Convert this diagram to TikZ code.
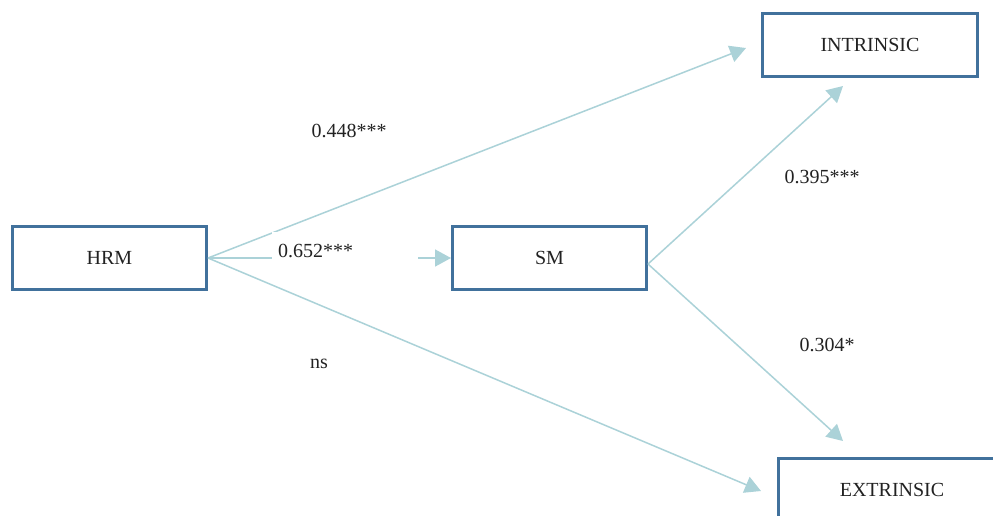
\documentclass[tikz,border=0pt]{standalone}
\usepackage{fontspec}
\setmainfont{Liberation Serif}
\usetikzlibrary{arrows.meta,calc}

\definecolor{boxblue}{HTML}{41719C}
\definecolor{pathcol}{HTML}{ABD2D8}
\definecolor{inkcol}{HTML}{222222}

\tikzset{
  construct/.style={draw=boxblue, line width=3pt, fill=white, minimum height=63pt,
    text=inkcol, font=\fontsize{20}{24}\selectfont},
  arr/.style={draw=pathcol, line width=1.5pt,
    -{Triangle[length=16pt,width=17pt]}},
  coef/.style={text=inkcol, font=\fontsize{20}{24}\selectfont, inner sep=0pt},
}

\begin{document}
\begin{tikzpicture}[x=1pt,y=-1pt]
  \path[clip] (0,0) rectangle (993,515);
  \fill[white] (0,0) rectangle (993,515);

  % latent constructs
  \node[construct, minimum width=194pt] (hrm)  at (109.5,258) {HRM};
  \node[construct, minimum width=194pt] (sm)   at (549.5,258) {SM};
  \node[construct, minimum width=215pt] (intr) at (870,45)    {INTRINSIC};
  \node[construct, minimum width=227pt] (extr) at (892,490)   {EXTRINSIC};

  % arrow tips that stop short of the outcome boxes
  \coordinate (tipHI) at ([shift={(-15,3)}]intr.west);
  \coordinate (tipSI) at ([shift={(-27,8)}]intr.south);
  \coordinate (tipHE) at ([shift={(-16,1)}]extr.west);
  \coordinate (tipSE) at ([shift={(-49,-16)}]extr.north);
  \coordinate (smout) at ([shift={(0,6)}]sm.east);

  % structural paths
  \draw[arr] (hrm.east) -- (tipHI);
  \draw[arr] (hrm.east) -- (tipHE);
  \draw[arr] (hrm.east) -- (sm.west);
  \draw[arr] (smout) -- (tipSI);
  \draw[arr] (smout) -- (tipSE);

  % path coefficients
  \node[fill=white, anchor=north west, minimum height=38pt, inner xsep=6pt,
        text width=134pt, align=left, text=inkcol, font=\fontsize{20}{24}\selectfont]
        (c652) at (272,232) {0.652***};
  \node[coef] (c448) at (349,131) {0.448***};
  \node[coef] (cns)  at (319,364) {ns};
  \node[coef] (c395) at (822,177) {0.395***};
  \node[coef] (c304) at (827,345) {0.304*};
\end{tikzpicture}
\end{document}
